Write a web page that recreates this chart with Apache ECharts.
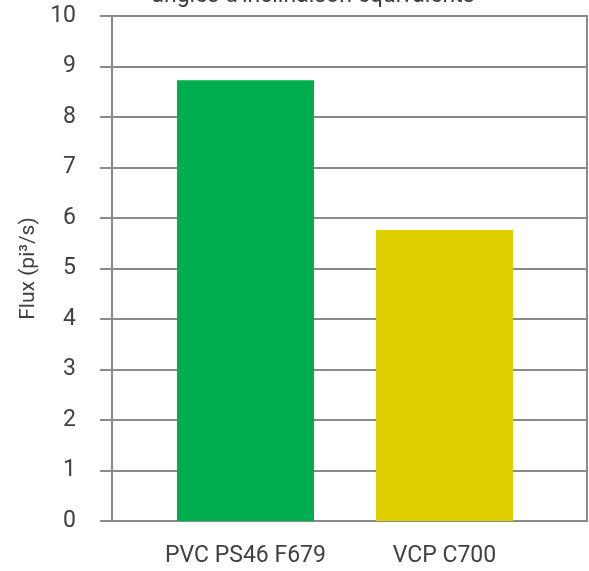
<!DOCTYPE html>
<html>
<head>
<meta charset="utf-8">
<script src="https://cdn.jsdelivr.net/npm/echarts@6/dist/echarts.min.js"></script>
<style>html,body{margin:0;padding:0;background:#fff;}#c{width:589px;height:571px;}</style>
</head>
<body>
<div id="c"></div>
<script>
const categories = ['PVC PS46 F679', 'VCP C700'];
const values = [8.73, 5.76];
const barColors = ['#00AE4F', '#E0CF00'];
const yTicks = [0, 1, 2, 3, 4, 5, 6, 7, 8, 9, 10];
const titleText = "angles d'inclinaison équivalents";
const yName = 'Flux (pi³/s)';

const FONT = '"Roboto", "Liberation Sans", sans-serif';
const TXT = '#404040';
const GRAY = '#8a8a8e';

const chart = echarts.init(document.getElementById('c'), null, {renderer: 'canvas'});
chart.setOption({
  animation: false,
  title: {
    text: titleText, left: 308, top: -20, textAlign: 'center',
    textStyle: {fontFamily: FONT, fontSize: 23, fontWeight: 'normal', color: TXT}
  },
  grid: [
    {left: 112, right: 2, top: 16, bottom: 50, show: true, borderColor: GRAY, borderWidth: 2, backgroundColor: 'transparent'},
    {left: 146, right: 45, top: 16, bottom: 50}
  ],
  xAxis: [
    {gridIndex: 0, type: 'value', min: 0, max: 1, show: false},
    {gridIndex: 1, type: 'category', data: categories,
     axisLine: {show: false}, axisTick: {show: false},
     axisLabel: {fontFamily: FONT, fontSize: 23, color: TXT, margin: 24, interval: 0}}
  ],
  yAxis: [
    {gridIndex: 0, type: 'value', min: yTicks[0], max: yTicks[yTicks.length - 1], interval: 1,
     name: yName, nameLocation: 'middle', nameGap: 70,
     nameTextStyle: {fontFamily: FONT, fontSize: 21, color: TXT},
     axisLine: {show: true, lineStyle: {color: GRAY, width: 2}},
     axisTick: {show: true, length: 12, lineStyle: {color: GRAY, width: 2}},
     axisLabel: {fontFamily: FONT, fontSize: 23, color: TXT, margin: 36},
     splitLine: {show: true, lineStyle: {color: GRAY, width: 2}}},
    {gridIndex: 1, type: 'value', min: 0, max: 10, show: false, splitLine: {show: false}}
  ],
  series: [{
    type: 'bar', xAxisIndex: 1, yAxisIndex: 1, barWidth: 137,
    data: values.map((v, i) => ({value: v, itemStyle: {color: barColors[i]}}))
  }]
});
</script>
</body>
</html>
